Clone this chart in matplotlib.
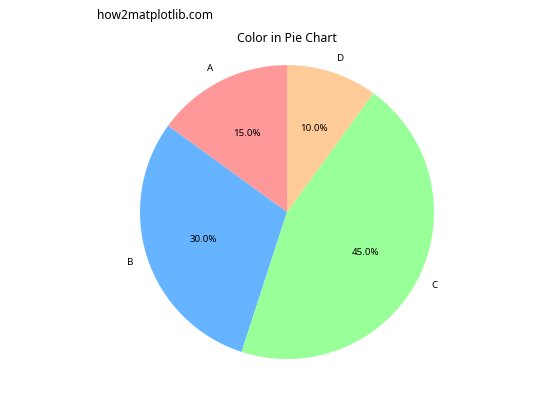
import matplotlib.pyplot as plt

plt.rcParams['font.family'] = ['Noto Sans', 'DejaVu Sans']

labels = ['A', 'B', 'C', 'D']
sizes = [15, 30, 45, 10]
colors = ['#ff9999', '#66b3ff', '#99ff99', '#ffcc99']

fig = plt.figure(figsize=(5.6, 4.2), dpi=100)
plt.pie(sizes, labels=labels, colors=colors, autopct='%1.1f%%', startangle=90,
        textprops={'fontsize': 7})
plt.title('Color in Pie Chart', fontsize=8.8)
plt.axis('equal')
fig.text(0.173, 0.955, 'how2matplotlib.com', fontsize=8.6)
plt.savefig('out.png')
